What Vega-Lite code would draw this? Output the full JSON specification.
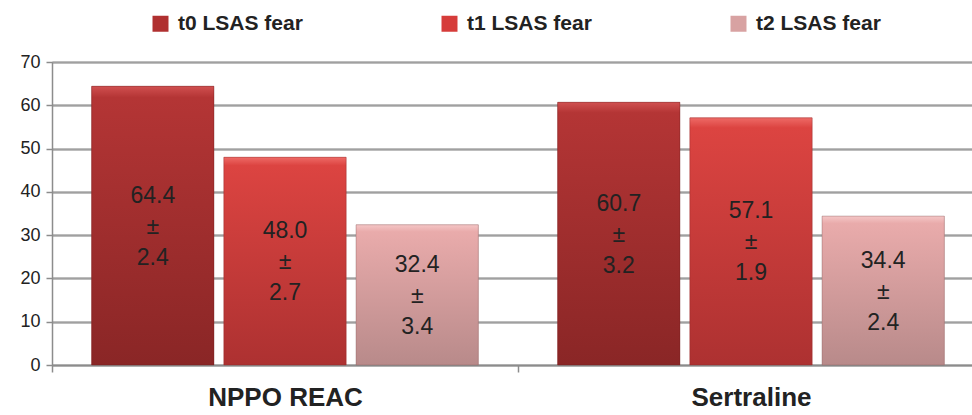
{
  "$schema": "https://vega.github.io/schema/vega-lite/v6.json",
  "autosize": "none",
  "padding": {"left": 52, "top": 62, "right": 0, "bottom": 50},
  "width": 932,
  "height": 303,
  "background": "white",
  "config": {
    "font": "Liberation Sans",
    "view": {"stroke": null}
  },
  "data": {
    "values": [
      {"group": "NPPO REAC", "series": "t0 LSAS fear", "value": 64.4, "label": "64.4\n±\n2.4"},
      {"group": "NPPO REAC", "series": "t1 LSAS fear", "value": 48.0, "label": "48.0\n±\n2.7"},
      {"group": "NPPO REAC", "series": "t2 LSAS fear", "value": 32.4, "label": "32.4\n±\n3.4"},
      {"group": "Sertraline", "series": "t0 LSAS fear", "value": 60.7, "label": "60.7\n±\n3.2"},
      {"group": "Sertraline", "series": "t1 LSAS fear", "value": 57.1, "label": "57.1\n±\n1.9"},
      {"group": "Sertraline", "series": "t2 LSAS fear", "value": 34.4, "label": "34.4\n±\n2.4"}
    ]
  },
  "encoding": {
    "x": {
      "field": "group", "type": "nominal", "title": null,
      "scale": {"domain": ["NPPO REAC", "Sertraline"], "paddingInner": 0, "paddingOuter": 0},
      "axis": {
        "labelAngle": 0, "labelFont": "Liberation Sans", "labelFontWeight": "bold", "labelFontSize": 26,
        "labelColor": "#222222", "labelPadding": 12, "tickBand": "extent", "tickSize": 7,
        "tickColor": "#8c8c8c", "tickWidth": 1.5, "domainColor": "#8c8c8c", "domainWidth": 1.5, "grid": false
      }
    },
    "xOffset": {
      "field": "series", "type": "nominal",
      "scale": {"domain": ["t0 LSAS fear", "t1 LSAS fear", "t2 LSAS fear"], "paddingInner": 0.075, "paddingOuter": 0.3}
    },
    "y": {
      "field": "value", "type": "quantitative", "title": null,
      "scale": {"domain": [0, 70], "nice": false},
      "axis": {
        "values": [0, 10, 20, 30, 40, 50, 60, 70],
        "labelFontSize": 18, "labelColor": "#222222", "labelPadding": 6,
        "tickSize": 6, "tickColor": "#8c8c8c", "tickWidth": 1.5,
        "domainColor": "#8c8c8c", "domainWidth": 1.5,
        "grid": true, "gridColor": "#a0a0a0", "gridWidth": 1.5
      }
    }
  },
  "layer": [
    {
      "mark": {"type": "bar"},
      "encoding": {
        "color": {
          "field": "series", "type": "nominal",
          "scale": {"domain": ["t0 LSAS fear", "t1 LSAS fear", "t2 LSAS fear"], "range": ["#b03030", "#d63c3a", "#d8a2a2"]},
          "legend": {
            "title": null, "orient": "none", "direction": "horizontal",
            "legendX": 98, "legendY": -49,
            "symbolType": "square", "symbolSize": 256, "symbolStrokeWidth": 0,
            "labelFont": "Liberation Sans", "labelFontWeight": "bold", "labelFontSize": 21, "labelColor": "#222222",
            "columnPadding": 136, "labelOffset": 7
          }
        }
      }
    },
    {
      "transform": [{"filter": "datum.series === 't0 LSAS fear'"}],
      "mark": {"type": "bar", "stroke": "#6e1e1e", "strokeOpacity": 0.4, "strokeWidth": 1,
        "color": {"gradient": "linear", "x1": 0, "y1": 0, "x2": 0, "y2": 1,
          "stops": [{"offset": 0, "color": "#d05050"}, {"offset": 0.04, "color": "#b43535"}, {"offset": 1, "color": "#8a2626"}]}}
    },
    {
      "transform": [{"filter": "datum.series === 't1 LSAS fear'"}],
      "mark": {"type": "bar", "stroke": "#8a2a2a", "strokeOpacity": 0.4, "strokeWidth": 1,
        "color": {"gradient": "linear", "x1": 0, "y1": 0, "x2": 0, "y2": 1,
          "stops": [{"offset": 0, "color": "#ee6a66"}, {"offset": 0.04, "color": "#dc4441"}, {"offset": 1, "color": "#ad3131"}]}}
    },
    {
      "transform": [{"filter": "datum.series === 't2 LSAS fear'"}],
      "mark": {"type": "bar", "stroke": "#8a6060", "strokeOpacity": 0.4, "strokeWidth": 1,
        "color": {"gradient": "linear", "x1": 0, "y1": 0, "x2": 0, "y2": 1,
          "stops": [{"offset": 0, "color": "#f4c6c6"}, {"offset": 0.05, "color": "#e9abab"}, {"offset": 1, "color": "#b88a8a"}]}}
    },
    {
      "mark": {"type": "text", "fontSize": 23, "color": "#222222", "lineBreak": "\n", "lineHeight": 31, "baseline": "middle", "dy": -30},
      "encoding": {
        "y": {"field": "value", "type": "quantitative", "scale": {"domain": [0, 140], "nice": false}, "axis": null},
        "text": {"field": "label"}
      }
    }
  ],
  "resolve": {"scale": {"y": "independent"}}
}
